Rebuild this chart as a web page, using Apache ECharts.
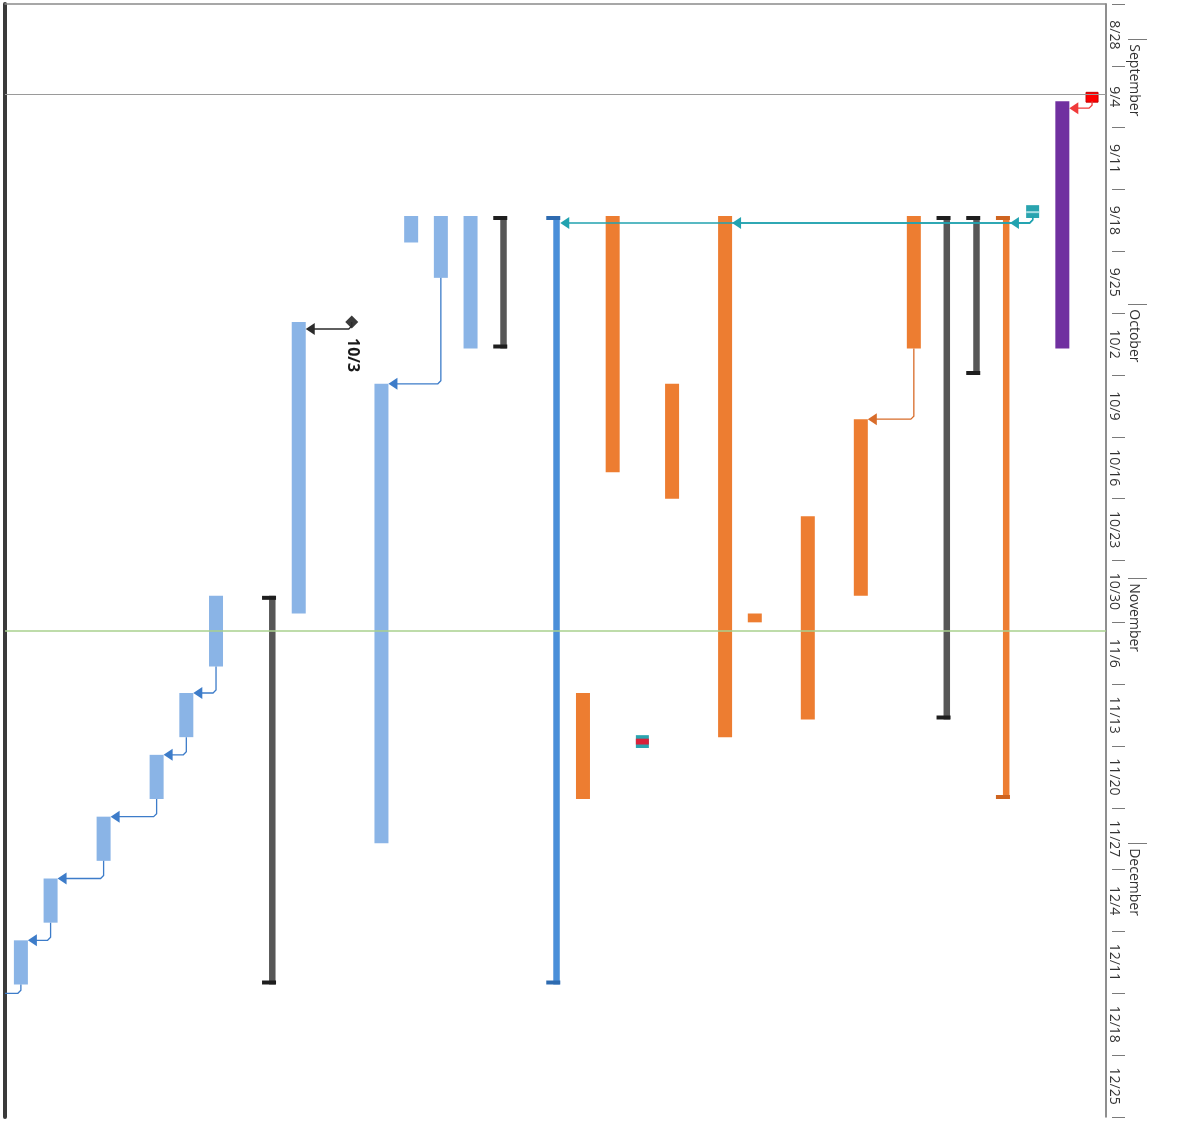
<!DOCTYPE html>
<html>
<head>
<meta charset="utf-8">
<script src="https://cdn.jsdelivr.net/npm/echarts@6/dist/echarts.min.js"></script>
<style>
  html, body { margin: 0; padding: 0; background: #fff; }
  #chart { width: 1192px; height: 1121px; }
</style>
</head>
<body>
<div id="chart"></div>
<script>
// ---- timescale ----
const ORIGIN = '2016-08-28';
const weekLabels = ['8/28', '9/4', '9/11', '9/18', '9/25', '10/2', '10/9', '10/16', '10/23',
  '10/30', '11/6', '11/13', '11/20', '11/27', '12/4', '12/11', '12/18', '12/25'];
const monthLabels = ['September', 'October', 'November', 'December'];
const monthStarts = ['2016-09-01', '2016-10-01', '2016-11-01', '2016-12-01'];

// ---- tasks, one per row (rows run right to left) ----
const taskKind = ['critical', 'phase', 'handoff', 'groupOrange', 'group', 'group',
  'work', 'work', 'work', 'work', 'work', 'work', 'flag', 'work', 'work',
  'groupBlue', 'group', 'task', 'task', 'task', 'task', 'milestone', 'task',
  'group', 'task', 'task', 'task', 'task', 'task', 'task', 'task'];
const taskStart = ['2016-09-07', '2016-09-08', '2016-09-20', '2016-09-21', '2016-09-21', '2016-09-21',
  '2016-09-21', '2016-10-14', '2016-10-25', '2016-11-05', '2016-09-21', '2016-10-10', '2016-11-19', '2016-09-21', '2016-11-14',
  '2016-09-21', '2016-09-21', '2016-09-21', '2016-09-21', '2016-09-21', '2016-10-10', '2016-10-03', '2016-10-03',
  '2016-11-03', '2016-11-03', '2016-11-14', '2016-11-21', '2016-11-28', '2016-12-05', '2016-12-12', '2016-12-18'];
const taskEnd = ['2016-09-08', '2016-10-06', '2016-09-21', '2016-11-26', '2016-10-09', '2016-11-17',
  '2016-10-06', '2016-11-03', '2016-11-17', '2016-11-06', '2016-11-19', '2016-10-23', '2016-11-20', '2016-10-20', '2016-11-26',
  '2016-12-17', '2016-10-06', '2016-10-06', '2016-09-28', '2016-09-24', '2016-12-01', '2016-10-03', '2016-11-05',
  '2016-12-17', '2016-11-11', '2016-11-19', '2016-11-26', '2016-12-03', '2016-12-10', '2016-12-17', '2016-12-23'];

// finish-to-start dependencies [predecessor, successor]
const links = [[0, 1], [2, 3], [2, 10], [2, 15], [6, 7], [18, 20], [21, 22],
  [24, 25], [25, 26], [26, 27], [27, 28], [28, 29], [29, 30]];

const statusDate = '2016-09-07T06:00';
const currentDate = '2016-11-07';

// ---- layout ----
const TALL = 1.785;               // wrapped rows are taller
const ROW_SPAN = [1, 1, 1, 1, 1, 1, TALL, TALL, TALL, 1, TALL, 1, 1, 1, 1, TALL,
  1, 1, 1, 1, 1, TALL, 1, TALL, 1, 1, TALL, TALL, 1, TALL, 1];
const FIRST_ROW = 0.47;
const ROWS_VISIBLE = 37.07;
const HALF = 7;                   // half bar thickness, px

const FONT = '"Open Sans", "Noto Sans", sans-serif';
const COLORS = {
  critical: '#FF0000', phase: '#7030A0', work: '#ED7D31', task: '#8AB4E6',
  handoff: '#2AA4AF', handoffStripe: '#A6DDE3', flagRed: '#D9213A',
  group: ['#575757', '#1E1E1E'], groupOrange: ['#ED7D31', '#CF6420'], groupBlue: ['#4A8FD9', '#2E6BB0'],
  milestone: '#3A3A3A'
};
const LINK_COLORS = {
  critical: '#F03A3A', handoff: '#22A3B0', work: '#D86C2A', task: '#3D7CC9', milestone: '#2B2B2B'
};

const dayOf = s => {
  const iso = s.length > 10 ? s + ':00Z' : s + 'T00:00:00Z';
  return (Date.parse(iso) - Date.parse(ORIGIN + 'T00:00:00Z')) / 864e5;
};
const shortDate = s => { const p = s.split('-'); return (+p[1]) + '/' + (+p[2]); };

const laneCenter = [];
{ let acc = FIRST_ROW; ROW_SPAN.forEach(h => { laneCenter.push(acc); acc += h; }); }

const DAYS_SHOWN = dayOf('2017-01-01');
const weekMid = weekLabels.map((_, i) => i * 7 + 3.5);
const monthDays = monthStarts.map(dayOf);

function renderTask(params, api) {
  const i = params.dataIndex;
  const kind = taskKind[i];
  const p0 = api.coord([api.value(0), api.value(1)]);
  const p1 = api.coord([api.value(0), api.value(2)]);
  const cx = p0[0], y0 = p0[1], y1 = p1[1];
  const h = y1 - y0;
  const kids = [];
  if (kind === 'milestone') {
    const r = 6.5;
    kids.push({ type: 'polygon', shape: { points: [[cx, y0 - r], [cx + r, y0], [cx, y0 + r], [cx - r, y0]] },
      style: { fill: COLORS.milestone } });
    kids.push({ type: 'text', x: cx + 1, y: y0 + 16, rotation: -Math.PI / 2,
      style: { text: shortDate(taskStart[i]), font: 'bold 16px ' + FONT, fill: '#1a1a1a',
        align: 'left', verticalAlign: 'middle' } });
  } else if (kind.indexOf('group') === 0) {
    const c = COLORS[kind];
    kids.push({ type: 'rect', shape: { x: cx, y: y0, width: HALF - 0.5, height: h }, style: { fill: c[0] } });
    kids.push({ type: 'rect', shape: { x: cx - HALF, y: y0, width: 2 * HALF, height: 4 }, style: { fill: c[1] } });
    kids.push({ type: 'rect', shape: { x: cx - HALF, y: y1 - 4, width: 2 * HALF, height: 4 }, style: { fill: c[1] } });
  } else if (kind === 'handoff') {
    kids.push({ type: 'rect', shape: { x: cx - HALF + 0.5, y: y0 - 2, width: 2 * HALF - 1, height: h + 4 }, style: { fill: COLORS.handoff } });
    kids.push({ type: 'rect', shape: { x: cx - HALF + 0.5, y: y0 + h * 0.45, width: 2 * HALF - 1, height: 2 }, style: { fill: COLORS.handoffStripe } });
  } else if (kind === 'flag') {
    kids.push({ type: 'rect', shape: { x: cx - HALF + 0.5, y: y0 - 2, width: 2 * HALF - 1, height: h + 4 }, style: { fill: COLORS.handoff } });
    kids.push({ type: 'rect', shape: { x: cx - HALF + 0.5, y: y0 + 1.5, width: 2 * HALF - 1, height: h - 3 }, style: { fill: COLORS.flagRed } });
  } else if (kind === 'critical') {
    kids.push({ type: 'rect', shape: { x: cx - HALF + 1, y: y0, width: 2 * HALF - 2, height: h + 1 },
      style: { fill: COLORS.critical, stroke: '#C40000', lineWidth: 1 } });
  } else {
    kids.push({ type: 'rect', shape: { x: cx - HALF, y: y0, width: 2 * HALF, height: Math.max(h, 1) },
      style: { fill: COLORS[kind] } });
  }
  return { type: 'group', children: kids };
}

function renderLink(params, api) {
  const from = api.value(4);
  const a = api.coord([api.value(0), api.value(1)]);
  const b = api.coord([api.value(2), api.value(3)]);
  const yh = Math.max(b[1], a[1] + 7);
  const tip = b[0] + HALF;
  const color = LINK_COLORS[taskKind[from]];
  return {
    type: 'group',
    children: [
      { type: 'polyline', shape: { points: [[a[0], a[1]], [a[0], yh - 3], [a[0] - 3, yh], [tip + 8, yh]] },
        style: { stroke: color, lineWidth: 1.3, fill: null } },
      { type: 'polygon', shape: { points: [[tip, yh], [tip + 9, yh - 6], [tip + 9, yh + 6]] },
        style: { fill: color } }
    ]
  };
}

const timeAxisBase = { type: 'value', inverse: true, min: 0, max: DAYS_SHOWN, splitLine: { show: false } };

const option = {
  animation: false,
  backgroundColor: '#fff',
  grid: { left: 5, right: 86, top: 4, bottom: 4 },
  xAxis: {
    type: 'value', inverse: true, min: 0, max: ROWS_VISIBLE, position: 'top',
    axisLine: { show: true, lineStyle: { color: '#8a8a8a', width: 1.5 } },
    axisTick: { show: false }, axisLabel: { show: false }, splitLine: { show: false }
  },
  yAxis: [
    Object.assign({}, timeAxisBase, {
      position: 'right',
      axisLine: { show: true, lineStyle: { color: '#6a6a6a', width: 1.5 } },
      axisTick: { show: false },
      axisLabel: {
        customValues: weekMid, rotate: -90, margin: 8, align: 'center', verticalAlign: 'middle',
        formatter: v => weekLabels[Math.round((v - 3.5) / 7)] || '',
        color: '#333', fontSize: 14, fontFamily: FONT
      }
    }),
    Object.assign({}, timeAxisBase, {
      position: 'right', offset: 6, interval: 7,
      axisLine: { show: false },
      axisTick: { show: true, length: 13, lineStyle: { color: '#7a7a7a', width: 1 } },
      axisLabel: { show: false }
    }),
    Object.assign({}, timeAxisBase, {
      position: 'right', offset: 22,
      axisLine: { show: false },
      axisTick: { show: true, customValues: monthDays, length: 19, lineStyle: { color: '#7a7a7a', width: 1 } },
      axisLabel: {
        customValues: monthDays, rotate: -90, margin: 6, align: 'left', verticalAlign: 'middle',
        padding: [0, 0, 0, 5],
        formatter: v => monthLabels[monthDays.indexOf(v)] || '',
        color: '#333', fontSize: 14, fontFamily: FONT
      }
    }),
    Object.assign({}, timeAxisBase, {
      position: 'left',
      axisLine: { show: true, lineStyle: { color: '#3a3a3a', width: 4 } },
      axisTick: { show: false }, axisLabel: { show: false }
    })
  ],
  series: [
    {
      type: 'custom', name: 'tasks', clip: true, xAxisIndex: 0, yAxisIndex: 0,
      renderItem: renderTask,
      encode: { x: 0, y: [1, 2] },
      data: taskKind.map((k, i) => [laneCenter[i], dayOf(taskStart[i]), dayOf(taskEnd[i])]),
      markLine: {
        silent: true, symbol: ['none', 'none'], label: { show: false },
        data: [
          { yAxis: dayOf(statusDate), lineStyle: { color: '#9a9a9a', width: 1.2, type: 'solid' } },
          { yAxis: dayOf(currentDate), lineStyle: { color: '#A9D18E', width: 1.5, type: 'solid' } }
        ]
      }
    },
    {
      type: 'custom', name: 'links', clip: true, xAxisIndex: 0, yAxisIndex: 0,
      renderItem: renderLink,
      encode: { x: [0, 2], y: [1, 3] },
      data: links.map(([a, b]) => [laneCenter[a],
        taskKind[a] === 'milestone' ? dayOf(taskStart[a]) : dayOf(taskEnd[a]),
        laneCenter[b], dayOf(taskStart[b]), a])
    }
  ]
};

const chart = echarts.init(document.getElementById('chart'), null, { renderer: 'canvas' });
chart.setOption(option);
</script>
</body>
</html>
